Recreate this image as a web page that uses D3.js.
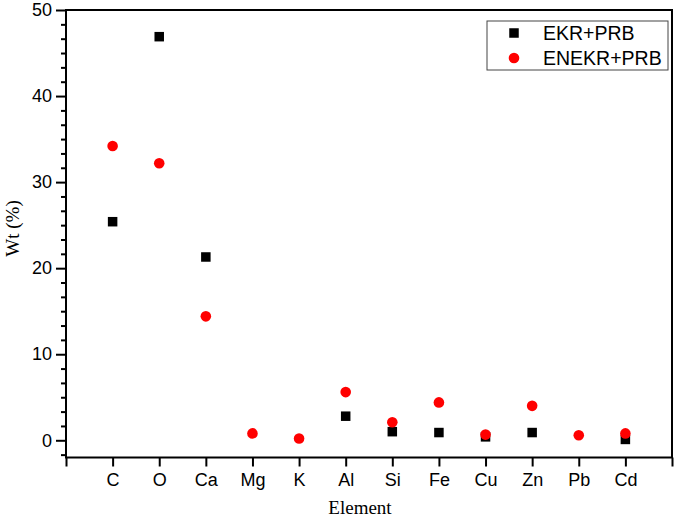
<!DOCTYPE html>
<html>
<head>
<meta charset="utf-8">
<script src="https://cdn.jsdelivr.net/npm/d3@7"></script>
<style>
  html, body { margin: 0; padding: 0; background: #fff; }
  svg { display: block; }
  .tick text { font-family: "Liberation Sans", Arial, sans-serif; font-size: 18px; fill: #000; }
  .title { font-family: "Liberation Serif", "Times New Roman", serif; font-size: 19px; fill: #000; }
  .legend text { font-family: "Liberation Sans", Arial, sans-serif; font-size: 19.5px; fill: #000; }
</style>
</head>
<body>
<div id="chart"></div>
<script>
// element categories, placed at x = 1..12
var elements = ['C', 'O', 'Ca', 'Mg', 'K', 'Al', 'Si', 'Fe', 'Cu', 'Zn', 'Pb', 'Cd'];

// Wt (%) per element; null where no marker is visible
var ekrPrb   = [25.4, 46.9, 21.3, null, null, 2.8, 1.0, 0.9, 0.4, 0.9, null, 0.1];
var enekrPrb = [34.2, 32.2, 14.4, 0.8, 0.2, 5.6, 2.1, 4.4, 0.66, 4.0, 0.58, 0.8];

var seriesNames = ['EKR+PRB', 'ENEKR+PRB'];
var yMajorTicks = [0, 10, 20, 30, 40, 50];

(function () {
    var W = 675, H = 518;
    var mLeft = 66, mRight = 672, mTop = 10, mBottom = 457.5;

    var svg = d3.select('#chart').append('svg')
        .attr('width', W).attr('height', H);

    var x = d3.scaleLinear().domain([0, 13]).range([mLeft, mRight]);
    var y = d3.scaleLinear().domain([-2, 50]).range([mBottom, mTop]);

    // minor y ticks: five between each pair of majors
    var yMinorTicks = d3.range(-1, 30).map(function (k) { return k * 10 / 6; })
        .filter(function (v) { return v > -2 && v < 50 && Math.abs(v / 10 - Math.round(v / 10)) > 1e-6; });

    // y axis: minor then major
    svg.append('g')
        .attr('transform', 'translate(' + mLeft + ',0)')
        .call(d3.axisLeft(y).tickValues(yMinorTicks).tickSize(5).tickFormat(''))
        .call(function (g) { g.select('.domain').remove(); g.selectAll('line').attr('stroke-width', 2); });

    svg.append('g')
        .attr('transform', 'translate(' + mLeft + ',0)')
        .call(d3.axisLeft(y).tickValues(yMajorTicks).tickSize(10).tickPadding(4))
        .call(function (g) {
            g.select('.domain').remove();
            g.selectAll('line').attr('stroke-width', 2);
        });

    // x axis: ticks at 0..13, labels at the element positions
    svg.append('g')
        .attr('transform', 'translate(0,' + mBottom + ')')
        .call(d3.axisBottom(x).tickValues(d3.range(0, 14)).tickSize(9).tickPadding(7)
            .tickFormat(function (d) { return elements[d - 1] || ''; }))
        .call(function (g) {
            g.select('.domain').remove();
            g.selectAll('line').attr('stroke-width', 2);
        });

    // frame
    svg.append('rect')
        .attr('x', mLeft).attr('y', mTop)
        .attr('width', mRight - mLeft).attr('height', mBottom - mTop)
        .attr('fill', 'none').attr('stroke', '#000').attr('stroke-width', 2);

    // squares (EKR+PRB)
    var sq = 9.5;
    svg.append('g').selectAll('rect')
        .data(ekrPrb.map(function (v, i) { return { i: i, v: v }; }).filter(function (d) { return d.v !== null; }))
        .join('rect')
        .attr('x', function (d) { return x(d.i + 1) - sq / 2; })
        .attr('y', function (d) { return y(d.v) - sq / 2; })
        .attr('width', sq).attr('height', sq)
        .attr('fill', '#000');

    // circles (ENEKR+PRB)
    svg.append('g').selectAll('circle')
        .data(enekrPrb.map(function (v, i) { return { i: i, v: v }; }).filter(function (d) { return d.v !== null; }))
        .join('circle')
        .attr('cx', function (d) { return x(d.i + 1); })
        .attr('cy', function (d) { return y(d.v); })
        .attr('r', 5.3)
        .attr('fill', '#ff0000');

    // axis titles
    svg.append('text').attr('class', 'title')
        .attr('transform', 'translate(19,228.5) rotate(-90)')
        .attr('text-anchor', 'middle')
        .text('Wt (%)');

    svg.append('text').attr('class', 'title')
        .attr('x', 360).attr('y', 514)
        .attr('text-anchor', 'middle')
        .text('Element');

    // legend
    var lg = svg.append('g').attr('class', 'legend');
    lg.append('rect')
        .attr('x', 487).attr('y', 21).attr('width', 181).attr('height', 49)
        .attr('fill', '#fff').attr('stroke', '#444').attr('stroke-width', 1);
    lg.append('rect')
        .attr('x', 514 - sq / 2).attr('y', 33 - sq / 2).attr('width', sq).attr('height', sq)
        .attr('fill', '#000');
    lg.append('circle').attr('cx', 514).attr('cy', 58).attr('r', 5.3).attr('fill', '#ff0000');
    lg.selectAll('text')
        .data(seriesNames)
        .join('text')
        .attr('x', 543)
        .attr('y', function (d, i) { return 40 + i * 25; })
        .text(function (d) { return d; });
})();
</script>
</body>
</html>
